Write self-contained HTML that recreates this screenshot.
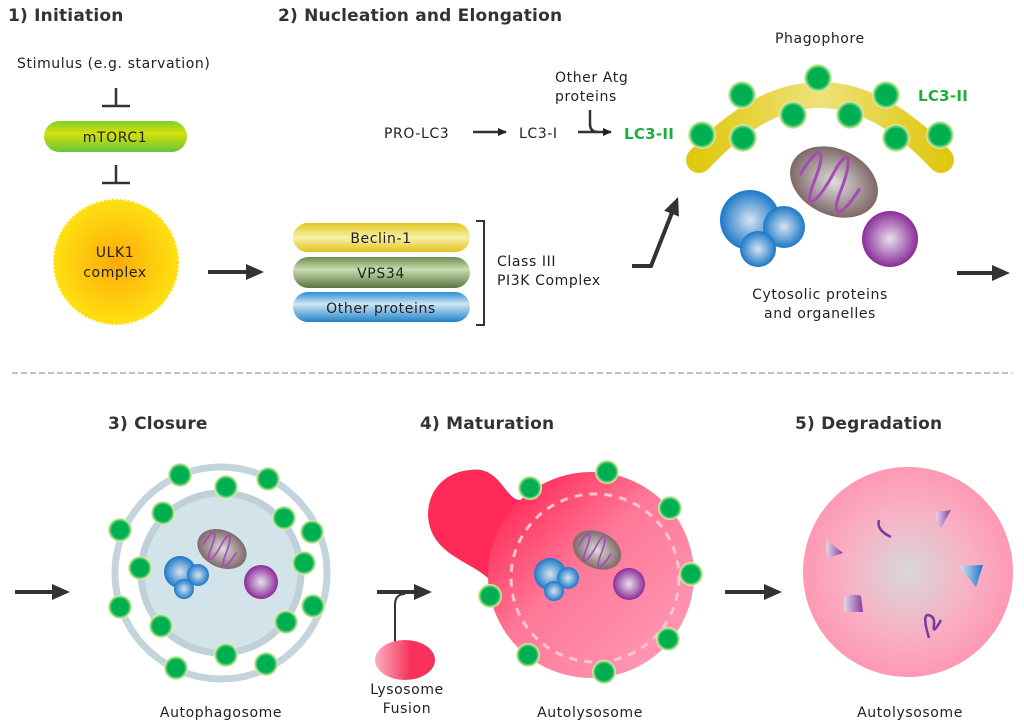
<!DOCTYPE html>
<html><head><meta charset="utf-8"><style>
html,body{margin:0;padding:0;background:#fff;}
svg{display:block;}
text{font-family:"DejaVu Sans","Liberation Sans",sans-serif;fill:#222;}
.t{font-weight:bold;font-size:17px;letter-spacing:0.2px;fill:#333;}
.s{font-size:14px;letter-spacing:0.6px;}
.g{font-weight:bold;font-size:15px;fill:#1aae3a;letter-spacing:0.3px;}
</style></head><body>
<svg width="1024" height="727" viewBox="0 0 1024 727" xmlns="http://www.w3.org/2000/svg">
<defs>
<linearGradient id="mt" x1="0" y1="0" x2="0" y2="1"><stop offset="0" stop-color="#7cd02c"/><stop offset=".4" stop-color="#d8e00a"/><stop offset="1" stop-color="#66c53a"/></linearGradient>
<radialGradient id="ulk"><stop offset="0" stop-color="#fdaa0a"/><stop offset="1" stop-color="#ffe010"/></radialGradient>
<linearGradient id="bc" x1="0" y1="0" x2="0" y2="1"><stop offset="0" stop-color="#e4c520"/><stop offset=".5" stop-color="#f6f0a8"/><stop offset="1" stop-color="#e2c21c"/></linearGradient>
<linearGradient id="vp" x1="0" y1="0" x2="0" y2="1"><stop offset="0" stop-color="#6e8a50"/><stop offset=".4" stop-color="#c8deb0"/><stop offset="1" stop-color="#5c7442"/></linearGradient>
<linearGradient id="op" x1="0" y1="0" x2="0" y2="1"><stop offset="0" stop-color="#2a8fd0"/><stop offset=".4" stop-color="#cfe6f5"/><stop offset="1" stop-color="#1f82c8"/></linearGradient>
<radialGradient id="dot"><stop offset="0" stop-color="#00b050"/><stop offset=".7" stop-color="#00b050"/><stop offset="1" stop-color="#f4f4b0"/></radialGradient>
<radialGradient id="blue"><stop offset="0" stop-color="#d8e4f0"/><stop offset="1" stop-color="#1a78c8"/></radialGradient>
<radialGradient id="pur"><stop offset="0" stop-color="#e8e0ec"/><stop offset="1" stop-color="#8a2c98"/></radialGradient>
<radialGradient id="mito"><stop offset="0" stop-color="#ddd"/><stop offset="1" stop-color="#806868"/></radialGradient>
<linearGradient id="lyso" x1="0" y1="0" x2="1" y2="0"><stop offset="0" stop-color="#fbb0c0"/><stop offset=".6" stop-color="#f8305a"/></linearGradient>
<linearGradient id="auto" x1="0" y1="0" x2="1" y2="1"><stop offset=".1" stop-color="#ff2a55"/><stop offset=".45" stop-color="#ff7898"/><stop offset="1" stop-color="#ffa0ba"/></linearGradient>
<radialGradient id="deg"><stop offset="0" stop-color="#d8d8d8"/><stop offset=".6" stop-color="#f8b0c4"/><stop offset="1" stop-color="#ff98b4"/></radialGradient>
<linearGradient id="arcg" x1="0" y1="0" x2="1" y2="0"><stop offset="0" stop-color="#e0c810"/><stop offset=".5" stop-color="#eee27a"/><stop offset="1" stop-color="#e0c810"/></linearGradient>
<linearGradient id="frg" x1="0" y1="0" x2="1" y2="0"><stop offset="0" stop-color="#e0d8e8"/><stop offset="1" stop-color="#8a3aa0"/></linearGradient>
<linearGradient id="frb" x1="0" y1="0" x2="1" y2="0"><stop offset="0" stop-color="#e0e8f0"/><stop offset="1" stop-color="#1a78c8"/></linearGradient>
<marker id="ah" markerWidth="10" markerHeight="10" refX="8" refY="5" orient="auto" markerUnits="userSpaceOnUse"><path d="M0,1 L9,5 L0,9 Z" fill="#222"/></marker>
<marker id="ahb" markerWidth="20" markerHeight="20" refX="4" refY="10" orient="auto" markerUnits="userSpaceOnUse"><path d="M0,2 L18,10 L0,18 Z" fill="#333"/></marker>
<g id="mitoG"><ellipse rx="46" ry="33" fill="url(#mito)"/><path d="M-34,8 C-30,-30 -20,-30 -18,10 C-16,40 -6,30 -4,-10 C-2,-40 8,-30 10,8 C12,35 22,30 26,-5" fill="none" stroke="#a34cb8" stroke-width="3"/></g>
</defs>

<text class="t" x="8" y="21">1) Initiation</text>
<text class="t" x="278" y="21">2) Nucleation and Elongation</text>

<text class="s" x="17" y="68">Stimulus (e.g. starvation)</text>
<path d="M116,88 V106 M102,106 H130" stroke="#333" stroke-width="2.5" fill="none"/>
<rect x="44" y="121" width="143" height="31" rx="15.5" fill="url(#mt)"/>
<text class="s" x="115" y="142" text-anchor="middle">mTORC1</text>
<path d="M116,165 V183 M102,183 H130" stroke="#333" stroke-width="2.5" fill="none"/>
<circle cx="116" cy="262" r="62" fill="url(#ulk)" stroke="#ffe000" stroke-width="2" stroke-dasharray="2 2"/>
<text class="s" x="115" y="257" text-anchor="middle">ULK1</text>
<text class="s" x="115" y="277" text-anchor="middle">complex</text>
<line x1="208" y1="272" x2="250" y2="272" stroke="#333" stroke-width="4" marker-end="url(#ahb)"/>

<rect x="293" y="223" width="177" height="29" rx="14.5" fill="url(#bc)"/>
<text class="s" x="381" y="243" text-anchor="middle">Beclin-1</text>
<rect x="293" y="257" width="177" height="31" rx="15.5" fill="url(#vp)"/>
<text class="s" x="381" y="278" text-anchor="middle">VPS34</text>
<rect x="293" y="292" width="177" height="30" rx="15" fill="url(#op)"/>
<text class="s" x="381" y="313" text-anchor="middle">Other proteins</text>
<path d="M476,221 H484 V325 H476" stroke="#333" stroke-width="2" fill="none"/>
<text class="s" x="497" y="266">Class III</text>
<text class="s" x="497" y="285">PI3K Complex</text>
<path d="M632,266 H651 L673,210" stroke="#333" stroke-width="4" fill="none" marker-end="url(#ahb)"/>

<text class="s" x="384" y="138">PRO-LC3</text>
<line x1="473" y1="132" x2="506" y2="132" stroke="#333" stroke-width="2.5" marker-end="url(#ah)"/>
<text class="s" x="519" y="138">LC3-I</text>
<line x1="578" y1="132" x2="611" y2="132" stroke="#333" stroke-width="2.5" marker-end="url(#ah)"/>
<path d="M590,110 V124 Q590,132 598,132" stroke="#333" stroke-width="2.5" fill="none"/>
<text class="s" x="555" y="82">Other Atg</text>
<text class="s" x="555" y="101">proteins</text>
<text class="g" x="624" y="139">LC3-II</text>

<text class="s" x="775" y="43">Phagophore</text>
<path d="M699,160 Q820,30 941,160" stroke="url(#arcg)" stroke-width="26" stroke-linecap="round" fill="none"/>
<g fill="url(#dot)">
<circle cx="702" cy="135" r="14"/><circle cx="742" cy="95" r="14"/><circle cx="818" cy="78" r="14"/><circle cx="886" cy="95" r="14"/><circle cx="940" cy="135" r="14"/>
<circle cx="743" cy="138" r="14"/><circle cx="793" cy="115" r="14"/><circle cx="850" cy="115" r="14"/><circle cx="896" cy="138" r="14"/>
</g>
<text class="g" x="918" y="101">LC3-II</text>
<use href="#mitoG" transform="translate(834,182) rotate(25)"/>
<circle cx="750" cy="220" r="30" fill="url(#blue)"/>
<circle cx="784" cy="227" r="21" fill="url(#blue)"/>
<circle cx="758" cy="249" r="18" fill="url(#blue)"/>
<circle cx="890" cy="239" r="28" fill="url(#pur)"/>
<text class="s" x="820" y="299" text-anchor="middle">Cytosolic proteins</text>
<text class="s" x="820" y="318" text-anchor="middle">and organelles</text>
<line x1="957" y1="273" x2="996" y2="273" stroke="#333" stroke-width="4" marker-end="url(#ahb)"/>

<line x1="12" y1="373" x2="1012" y2="373" stroke="#888" stroke-width="1" stroke-dasharray="6 3"/>

<text class="t" x="108" y="429">3) Closure</text>
<text class="t" x="420" y="429">4) Maturation</text>
<text class="t" x="795" y="429">5) Degradation</text>

<line x1="15" y1="592" x2="56" y2="592" stroke="#333" stroke-width="4" marker-end="url(#ahb)"/>
<circle cx="221" cy="573" r="106" fill="none" stroke="#c4d4dc" stroke-width="7"/>
<circle cx="221" cy="573" r="80" fill="#d3e3ea" stroke="#c0d0d8" stroke-width="7"/>
<g fill="url(#dot)">
<circle cx="180" cy="475" r="12"/><circle cx="268" cy="479" r="12"/><circle cx="120" cy="530" r="12"/><circle cx="312" cy="532" r="12"/><circle cx="120" cy="607" r="12"/><circle cx="313" cy="606" r="12"/><circle cx="176" cy="668" r="12"/><circle cx="266" cy="664" r="12"/>
<circle cx="226" cy="487" r="12"/><circle cx="163" cy="513" r="12"/><circle cx="284" cy="518" r="12"/><circle cx="140" cy="568" r="12"/><circle cx="304" cy="563" r="12"/><circle cx="161" cy="626" r="12"/><circle cx="286" cy="622" r="12"/><circle cx="226" cy="655" r="12"/>
</g>
<use href="#mitoG" transform="translate(222,549) rotate(25) scale(0.56)"/>
<circle cx="180" cy="572" r="16" fill="url(#blue)"/><circle cx="198" cy="575" r="11" fill="url(#blue)"/><circle cx="184" cy="589" r="10" fill="url(#blue)"/>
<circle cx="261" cy="582" r="17" fill="url(#pur)"/>
<text class="s" x="221" y="717" text-anchor="middle">Autophagosome</text>

<line x1="377" y1="592" x2="418" y2="592" stroke="#333" stroke-width="4" marker-end="url(#ahb)"/>
<path d="M395,668 V605 Q395,594 405,594" stroke="#333" stroke-width="2" fill="none"/>
<ellipse cx="405" cy="660" rx="30" ry="20" fill="url(#lyso)"/>
<text class="s" x="407" y="694" text-anchor="middle">Lysosome</text>
<text class="s" x="407" y="713" text-anchor="middle">Fusion</text>

<path d="M470,470 C500,465 505,500 520,500 C530,500 535,480 590,472 L600,600 L490,580 C470,560 430,555 428,515 C428,490 445,472 470,470 Z" fill="#ff2a55"/>
<circle cx="591" cy="575" r="103" fill="url(#auto)"/>
<circle cx="595" cy="578" r="84" fill="none" stroke="#ffc4d2" stroke-width="3" stroke-dasharray="8 7"/>
<g fill="url(#dot)">
<circle cx="530" cy="488" r="12"/><circle cx="607" cy="472" r="12"/><circle cx="670" cy="508" r="12"/><circle cx="691" cy="574" r="12"/><circle cx="668" cy="639" r="12"/><circle cx="604" cy="672" r="12"/><circle cx="528" cy="655" r="12"/><circle cx="490" cy="596" r="12"/>
</g>
<use href="#mitoG" transform="translate(597,550) rotate(25) scale(0.55)"/>
<circle cx="550" cy="574" r="16" fill="url(#blue)"/><circle cx="568" cy="578" r="11" fill="url(#blue)"/><circle cx="554" cy="591" r="10" fill="url(#blue)"/>
<circle cx="629" cy="584" r="16" fill="url(#pur)"/>
<text class="s" x="590" y="717" text-anchor="middle">Autolysosome</text>

<line x1="725" y1="592" x2="768" y2="592" stroke="#333" stroke-width="4" marker-end="url(#ahb)"/>
<circle cx="908" cy="572" r="105" fill="url(#deg)"/>
<path d="M937,512 L951,510 L941,528 Q934,520 937,512 Z" fill="url(#frg)"/>
<path d="M827,540 L843,553 L828,558 Q825,549 827,540 Z" fill="url(#frg)"/>
<path d="M959,566 L983,565 L976,587 Z" fill="url(#frb)"/>
<path d="M844,612 L844,597 Q855,593 861,596 L863,612 Z" fill="url(#frg)"/>
<path d="M879,520 Q876,530 891,537" stroke="#7a3aa0" stroke-width="2.5" fill="none"/>
<path d="M929,638 Q922,615 928,615 Q935,616 934,625 Q932,636 941,620" stroke="#7a3aa0" stroke-width="2.5" fill="none"/>
<text class="s" x="910" y="717" text-anchor="middle">Autolysosome</text>
</svg>
</body></html>
